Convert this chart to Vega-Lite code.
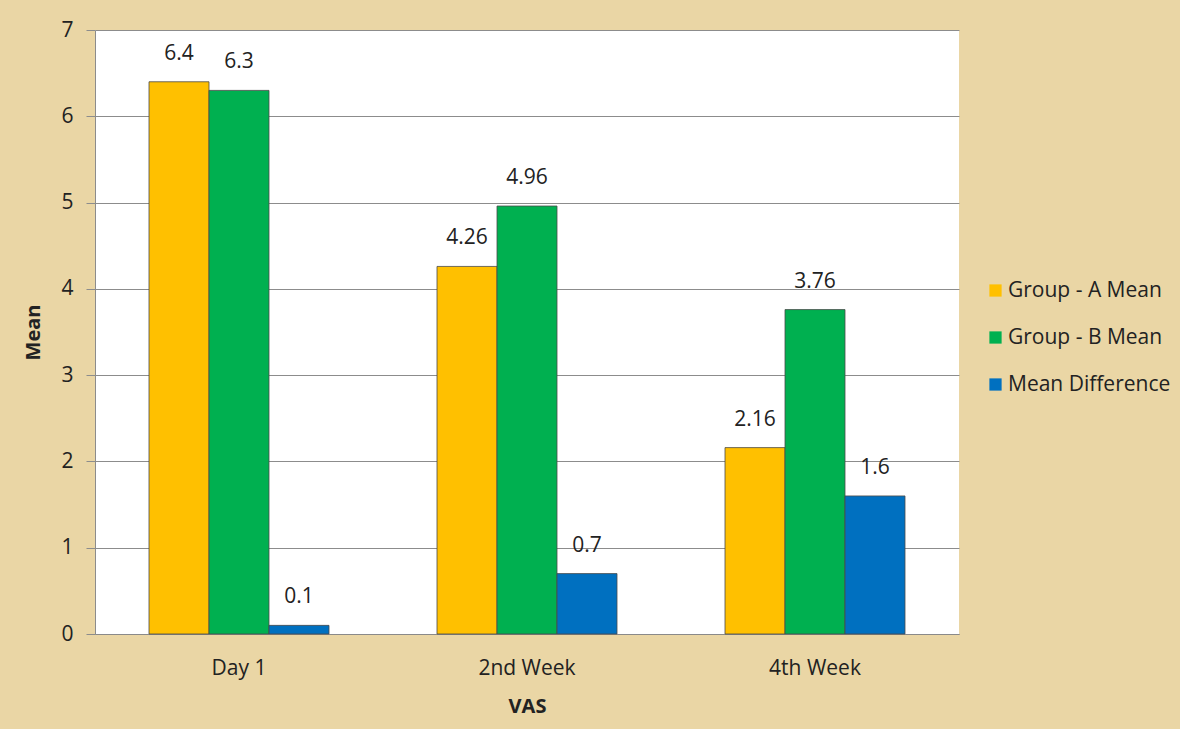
{
  "$schema": "https://vega.github.io/schema/vega-lite/v6.json",
  "width": 864,
  "height": 604,
  "autosize": {"type": "none"},
  "padding": {"left": 95, "top": 30, "right": 221, "bottom": 95},
  "background": "#EAD6A5",
  "config": {
    "font": "Open Sans",
    "view": {"fill": "white", "stroke": null}
  },
  "data": {
    "values": [
      {"period": "Day 1", "series": "Group - A Mean", "value": 6.4},
      {"period": "Day 1", "series": "Group - B Mean", "value": 6.3},
      {"period": "Day 1", "series": "Mean Difference", "value": 0.1},
      {"period": "2nd Week", "series": "Group - A Mean", "value": 4.26},
      {"period": "2nd Week", "series": "Group - B Mean", "value": 4.96},
      {"period": "2nd Week", "series": "Mean Difference", "value": 0.7},
      {"period": "4th Week", "series": "Group - A Mean", "value": 2.16},
      {"period": "4th Week", "series": "Group - B Mean", "value": 3.76},
      {"period": "4th Week", "series": "Mean Difference", "value": 1.6}
    ]
  },
  "encoding": {
    "x": {
      "field": "period",
      "type": "nominal",
      "sort": ["Day 1", "2nd Week", "4th Week"],
      "scale": {"paddingInner": 0, "paddingOuter": 0},
      "axis": {
        "title": "VAS",
        "labelAngle": 0,
        "ticks": false,
        "tickSize": 0,
        "domain": true,
        "domainColor": "#8a8a8a",
        "labelFontSize": 21,
        "labelColor": "#222222",
        "labelPadding": 23,
        "titleFontSize": 20,
        "titleFontWeight": "bold",
        "titleColor": "#222222",
        "titlePadding": 18
      }
    },
    "xOffset": {
      "field": "series",
      "sort": ["Group - A Mean", "Group - B Mean", "Mean Difference"],
      "scale": {"paddingInner": 0, "paddingOuter": 0.9}
    },
    "y": {
      "field": "value",
      "type": "quantitative",
      "scale": {"domain": [0, 7], "nice": false},
      "axis": {
        "title": "Mean",
        "values": [0, 1, 2, 3, 4, 5, 6, 7],
        "labelOverlap": false,
        "grid": true,
        "gridColor": "#8c8c8c",
        "gridWidth": 1,
        "tickColor": "#8c8c8c",
        "tickSize": 9,
        "domain": true,
        "domainColor": "#8c8c8c",
        "labelFontSize": 21,
        "labelColor": "#222222",
        "labelPadding": 13,
        "titleFontSize": 20,
        "titleFontWeight": "bold",
        "titleColor": "#222222",
        "titlePadding": 17
      }
    }
  },
  "layer": [
    {
      "mark": {"type": "bar", "stroke": "#4a4a4a", "strokeWidth": 0.8},
      "encoding": {
        "color": {
          "field": "series",
          "type": "nominal",
          "sort": ["Group - A Mean", "Group - B Mean", "Mean Difference"],
          "scale": {
            "domain": ["Group - A Mean", "Group - B Mean", "Mean Difference"],
            "range": ["#FFC000", "#00B050", "#0070C0"]
          },
          "legend": {
            "title": null,
            "orient": "none",
            "legendX": 890,
            "legendY": 250,
            "symbolType": "square",
            "symbolSize": 150,
            "symbolStrokeWidth": 0,
            "labelFontSize": 21,
            "labelColor": "#222222",
            "labelOffset": 2,
            "labelLimit": 300,
            "rowPadding": 25
          }
        }
      }
    },
    {
      "mark": {"type": "text", "dy": -28, "fontSize": 21, "color": "#222222", "baseline": "middle"},
      "encoding": {
        "text": {"field": "value", "type": "quantitative"}
      }
    }
  ]
}
